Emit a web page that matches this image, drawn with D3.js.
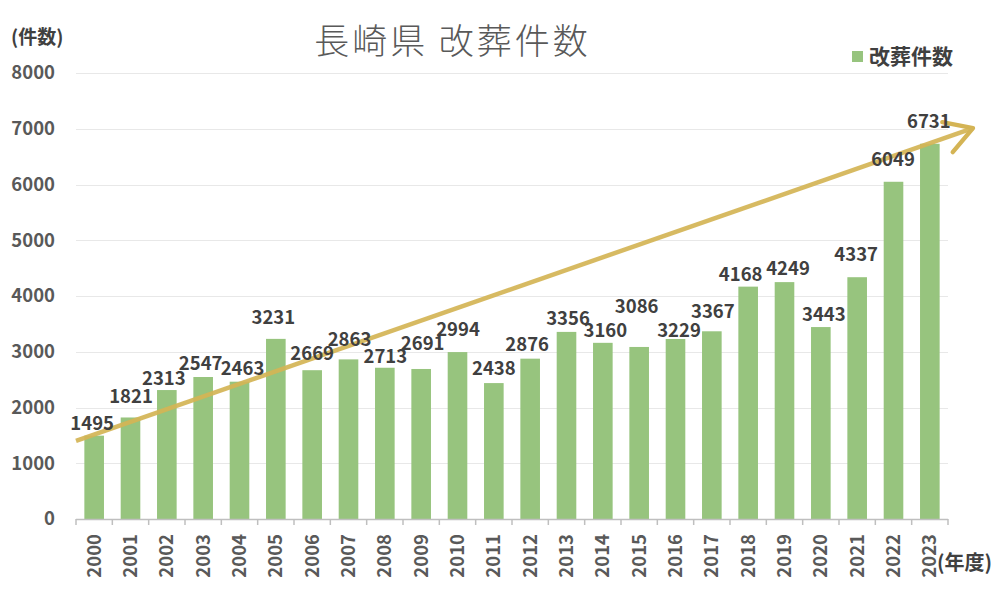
<!DOCTYPE html>
<html><head><meta charset="utf-8">
<script src="https://cdn.jsdelivr.net/npm/d3@7"></script>
<style>body{margin:0;background:#fff}svg{display:block}</style>
</head><body><svg id="c" width="1000" height="589"></svg>
<script>
const years = ["2000","2001","2002","2003","2004","2005","2006","2007","2008","2009","2010","2011","2012","2013","2014","2015","2016","2017","2018","2019","2020","2021","2022","2023"];
const counts = [1495,1821,2313,2547,2463,3231,2669,2863,2713,2691,2994,2438,2876,3356,3160,3086,3229,3367,4168,4249,3443,4337,6049,6731];
const yTicks = [0,1000,2000,3000,4000,5000,6000,7000,8000];
const trendStart = 1400, trendEnd = 7010;
const title = "長崎県 改葬件数", seriesName = "改葬件数", yUnit = "(件数)", xUnit = "(年度)";
// manual nudges of data labels (px), as placed in the original
const labelDx = [-2,0.5,-3,-2.5,3,-2.5,0,1,0.5,1.5,0.5,0,-3,1.5,2.5,-2.5,3.5,1,-7.5,3.5,3,-1,-0.5,-1];
const labelDy = [-12,-21,-12,-14,-13,-21.5,-17,-20,-11.5,-26,-23,-14.5,-14.5,-13.5,-12,-40.5,-9,-19.5,-12.5,-13.5,-12.5,-22.5,-22,-22];

(function(){
const svg = d3.select("#c");
const font = "'Noto Sans CJK JP','Noto Sans',sans-serif";
const pl = 76, pr = 948, pt = 73, pb = 519;
const x = d3.scaleBand().domain(years).range([pl, pr]).paddingInner(0.46).paddingOuter(0.23);
const y = d3.scaleLinear().domain([0, 8000]).range([pb, pt]);

svg.append("g").selectAll("line").data(yTicks.filter(d => d > 0)).join("line")
  .attr("x1", pl).attr("x2", pr).attr("y1", d => Math.round(y(d)) + 0.5).attr("y2", d => Math.round(y(d)) + 0.5)
  .attr("stroke", "#e8e8e8").attr("stroke-width", 1);

svg.append("g").selectAll("text").data(yTicks).join("text")
  .attr("x", 55).attr("y", d => y(d)).attr("dy", "0.35em").attr("text-anchor", "end")
  .attr("font-family", font).attr("font-weight", "bold").attr("font-size", 18.5).attr("fill", "#595959")
  .text(d => d);

svg.append("g").selectAll("rect").data(counts).join("rect")
  .attr("x", (d, i) => x(years[i])).attr("width", x.bandwidth())
  .attr("y", d => y(d)).attr("height", d => y(0) - y(d)).attr("fill", "#97c47e");

const step = x.step();
svg.append("line").attr("x1", pl).attr("x2", pr).attr("y1", pb + 0.5).attr("y2", pb + 0.5)
  .attr("stroke", "#bfbfbf").attr("stroke-width", 1.5);
svg.append("g").selectAll("line").data(d3.range(years.length + 1)).join("line")
  .attr("x1", i => pl + i * step).attr("x2", i => pl + i * step)
  .attr("y1", pb).attr("y2", pb + 6).attr("stroke", "#bfbfbf").attr("stroke-width", 1.5);

svg.append("g").selectAll("text").data(years).join("text")
  .attr("transform", d => `translate(${x(d) + x.bandwidth() / 2},${pb + 15}) rotate(-90)`)
  .attr("text-anchor", "end").attr("dy", "0.35em")
  .attr("font-family", font).attr("font-weight", "bold").attr("font-size", 18.5).attr("fill", "#595959")
  .text(d => d);

const defs = svg.append("defs");
defs.append("marker").attr("id", "ah").attr("viewBox", "0 0 10 10").attr("refX", 9).attr("refY", 5)
  .attr("markerWidth", 7.5).attr("markerHeight", 7.5).attr("orient", "auto").attr("markerUnits", "strokeWidth")
  .attr("overflow", "visible")
  .append("path").attr("d", "M1,0.3 L9,5 L1,9.7").attr("fill", "none").attr("stroke", "#d4b455")
  .attr("stroke-width", 1.3).attr("stroke-linecap", "round").attr("stroke-linejoin", "round");
svg.append("line").attr("x1", pl).attr("y1", y(trendStart)).attr("x2", pr + 25).attr("y2", y(trendEnd))
  .attr("stroke", "#d4b455").attr("stroke-width", 4.5).attr("stroke-opacity", 0.92)
  .attr("marker-end", "url(#ah)");

svg.append("g").selectAll("text").data(counts).join("text")
  .attr("x", (d, i) => x(years[i]) + x.bandwidth() / 2 + labelDx[i]).attr("y", (d, i) => y(d) + labelDy[i])
  .attr("dy", "0.36em").attr("text-anchor", "middle")
  .attr("font-family", font).attr("font-weight", "bold").attr("font-size", 18.5).attr("fill", "#404040")
  .text(d => d);

svg.append("text").attr("x", 452.5).attr("y", 54).attr("text-anchor", "middle")
  .attr("font-family", font).attr("font-weight", 300).attr("font-size", 35).attr("letter-spacing", 3)
  .attr("fill", "#595959").text(title);

svg.append("text").attr("x", 11).attr("y", 44)
  .attr("font-family", font).attr("font-weight", "bold").attr("font-size", 19).attr("fill", "#404040").text(yUnit);
svg.append("text").attr("x", 937).attr("y", 570)
  .attr("font-family", font).attr("font-weight", "bold").attr("font-size", 20).attr("fill", "#404040").text(xUnit);

svg.append("rect").attr("x", 852).attr("y", 51).attr("width", 11).attr("height", 11).attr("fill", "#97c47e");
svg.append("text").attr("x", 869).attr("y", 56).attr("dy", "0.36em")
  .attr("font-family", font).attr("font-weight", "bold").attr("font-size", 21).attr("fill", "#404040").text(seriesName);
})();
</script></body></html>
